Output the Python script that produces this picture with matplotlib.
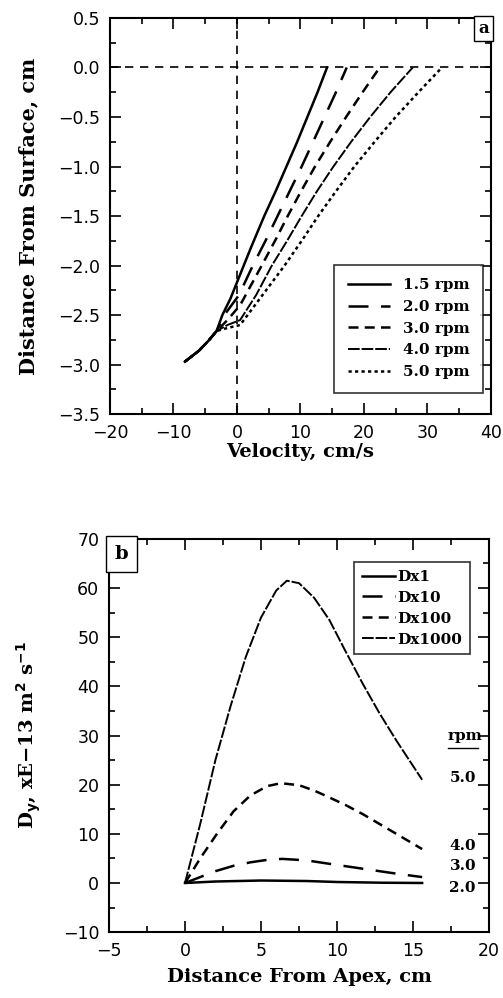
import matplotlib.pyplot as plt
from matplotlib.ticker import MultipleLocator
import numpy as np

plt.rcParams['font.family'] = ['DejaVu Sans']
plt.rcParams['mathtext.default'] = 'bf'

# panel a: velocity profiles (velocity cm/s, depth cm)
base_v = [-8.2, -6.0, -4.5, -3.2]
base_d = [-2.97, -2.86, -2.76, -2.66]

v15 = [-2.3, -1.0, 0.0, 2.2, 4.3, 6.1, 7.8, 9.5, 11.1, 12.7, 14.2]
d15 = [-2.5, -2.33, -2.17, -1.82, -1.5, -1.25, -1.0, -0.75, -0.5, -0.25, 0.0]
v20 = [-2.0, 0.3, 2.5, 4.5, 6.4, 8.3, 10.2, 12.0, 13.8, 15.6, 17.3]
d20 = [-2.5, -2.3, -2.0, -1.75, -1.5, -1.25, -1.0, -0.75, -0.5, -0.25, 0.0]
v30 = [-1.5, 0.5, 2.2, 3.9, 6.0, 8.0, 10.1, 12.3, 14.7, 17.2, 19.8, 22.5]
d30 = [-2.55, -2.4, -2.2, -2.0, -1.75, -1.5, -1.25, -1.0, -0.75, -0.5, -0.25, 0.0]
v40 = [-1.5, 0.5, 3.0, 5.5, 7.9, 10.2, 12.6, 15.2, 18.0, 21.0, 24.2, 27.7]
d40 = [-2.6, -2.55, -2.3, -2.0, -1.75, -1.5, -1.25, -1.0, -0.75, -0.5, -0.25, 0.0]
v50 = [-1.5, 0.5, 4.0, 7.5, 10.2, 12.8, 15.6, 18.5, 21.7, 25.0, 28.6, 32.3]
d50 = [-2.63, -2.6, -2.3, -2.0, -1.75, -1.5, -1.25, -1.0, -0.75, -0.5, -0.25, 0.0]
rpm_labels = ['1.5 rpm', '2.0 rpm', '3.0 rpm', '4.0 rpm', '5.0 rpm']

# panel b: Dy vs distance from apex
dist5 = [0, 1.0, 2.0, 3.0, 4.0, 5.0, 6.0, 6.7, 7.5, 8.5, 9.5, 10.5, 11.7, 12.8, 13.9, 15.6]
dy5 = [0, 12, 25, 36, 46, 54, 59.5, 61.5, 61, 58, 53.5, 47.5, 40.5, 34.5, 29, 21]
dist4 = [0, 1.0, 2.1, 3.2, 4.3, 5.4, 6.3, 7.5, 8.5, 9.5, 10.6, 11.7, 12.8, 13.9, 15.6]
dy4 = [0, 5.0, 10, 14.6, 17.8, 19.7, 20.3, 19.9, 18.8, 17.4, 15.8, 14, 12, 10, 6.9]
dist3 = [0, 1.0, 2.0, 3.2, 4.3, 5.4, 6.4, 8.0, 9.5, 11.7, 13.9, 15.6]
dy3 = [0, 1.2, 2.4, 3.5, 4.2, 4.7, 4.9, 4.6, 3.9, 2.9, 1.9, 1.2]
dist2 = [0, 2.0, 5.0, 8.0, 10.0, 13.0, 15.6]
dy2 = [0, 0.3, 0.5, 0.4, 0.2, 0.05, 0.0]
dx_labels = ['Dx1', 'Dx10', 'Dx100', 'Dx1000']
rpm_b = ['2.0', '3.0', '4.0', '5.0']
rpm_b_y = [-1.0, 3.5, 7.5, 21.4]

lab_font = dict(family='DejaVu Serif', fontweight='bold', fontsize=14)
leg_font = dict(family='DejaVu Serif', weight='bold', size=11)

fig = plt.figure(figsize=(5.03, 9.98), dpi=100)
ax1 = fig.add_axes([0.2187, 0.585, 0.757, 0.397])
ax2 = fig.add_axes([0.2167, 0.066, 0.7555, 0.394])

styles_a = [
    dict(ls='-', lw=1.8),
    dict(ls=(0, (8, 5)), lw=1.8),
    dict(ls=(0, (4, 2.5)), lw=1.8),
    dict(ls=(0, (6, 1)), lw=1.4),
    dict(ls=(0, (1.3, 1.3)), lw=1.8),
]
series_a = [(v15, d15), (v20, d20), (v30, d30), (v40, d40), (v50, d50)]
for (v, d), st, lab in zip(series_a, styles_a, rpm_labels):
    ax1.plot(base_v + v, base_d + d, color='black', label=lab, **st)

ax1.axhline(0, color='black', ls=(0, (5, 4)), lw=1.2)
ax1.axvline(0, color='black', ls=(0, (5, 4)), lw=1.2)
ax1.set_xlim(-20, 40)
ax1.set_ylim(-3.5, 0.5)
ax1.xaxis.set_major_locator(MultipleLocator(10))
ax1.xaxis.set_minor_locator(MultipleLocator(5))
ax1.yaxis.set_major_locator(MultipleLocator(0.5))
ax1.yaxis.set_minor_locator(MultipleLocator(0.25))
ax1.yaxis.set_major_formatter(plt.FuncFormatter(lambda x, p: f'{x:.1f}'.replace('-', '\u2212')))
ax1.set_xlabel('Velocity, cm/s', labelpad=1, **lab_font)
ax1.set_ylabel('Distance From Surface, cm', labelpad=14, family='DejaVu Serif',
               fontweight='bold', fontsize=15)
ax1.text(0.995, 0.995, 'a', transform=ax1.transAxes, ha='right', va='top',
         fontsize=12, family='DejaVu Serif', fontweight='bold',
         bbox=dict(boxstyle='square,pad=0.25', fc='white', ec='black', lw=1))
leg1 = ax1.legend(loc='lower right', bbox_to_anchor=(1.0, 0.035), prop=leg_font,
                  frameon=True, fancybox=False, edgecolor='black',
                  handlelength=2.8, borderpad=0.9, labelspacing=0.5)
leg1.get_frame().set_linewidth(1.2)

styles_b = [
    dict(ls='-', lw=1.8),
    dict(ls=(0, (8, 5)), lw=1.8),
    dict(ls=(0, (4, 2.5)), lw=1.8),
    dict(ls=(0, (6, 1)), lw=1.4),
]
series_b = [(dist2, dy2), (dist3, dy3), (dist4, dy4), (dist5, dy5)]
for (x, y), st, lab in zip(series_b, styles_b, dx_labels):
    ax2.plot(x, y, color='black', label=lab, **st)

for lab, yy in zip(rpm_b, rpm_b_y):
    ax2.text(17.4, yy, lab, ha='left', va='center', **leg_font)
ax2.text(17.3, 30, 'rpm', ha='left', va='center', **leg_font)
ax2.plot([17.3, 19.3], [27.4, 27.4], color='black', lw=1)

ax2.set_xlim(-5, 20)
ax2.set_ylim(-10, 70)
ax2.xaxis.set_major_locator(MultipleLocator(5))
ax2.xaxis.set_minor_locator(MultipleLocator(2.5))
ax2.yaxis.set_major_locator(MultipleLocator(10))
ax2.yaxis.set_minor_locator(MultipleLocator(5))
ax2.yaxis.set_major_formatter(plt.FuncFormatter(lambda x, p: f'{x:.0f}'.replace('-', '\u2212')))
ax2.set_xlabel('Distance From Apex, cm', labelpad=6, **lab_font)
ax2.set_ylabel(r'D$_\mathbf{y}$, xE$-$13 m$^\mathbf{2}$ s$^\mathbf{-1}$', labelpad=14, **lab_font)
ax2.text(0.015, 0.985, 'b', transform=ax2.transAxes, ha='left', va='top',
         fontsize=14, family='DejaVu Serif', fontweight='bold',
         bbox=dict(boxstyle='square,pad=0.45', fc='white', ec='black', lw=1))
leg2 = ax2.legend(loc='upper right', bbox_to_anchor=(0.97, 0.96), prop=leg_font,
                  frameon=True, fancybox=False, edgecolor='black',
                  handlelength=2.2, handletextpad=0.15, borderpad=0.5, labelspacing=0.45)
leg2.get_frame().set_linewidth(1.2)

for ax in (ax1, ax2):
    ax.tick_params(which='both', direction='in', top=True, right=True, labelsize=12.5, width=1.2)
    ax.tick_params(which='major', length=8, pad=7)
    ax.tick_params(which='minor', length=4)
    for s in ax.spines.values():
        s.set_linewidth(1.5)

fig.savefig('out.png', dpi=100)
